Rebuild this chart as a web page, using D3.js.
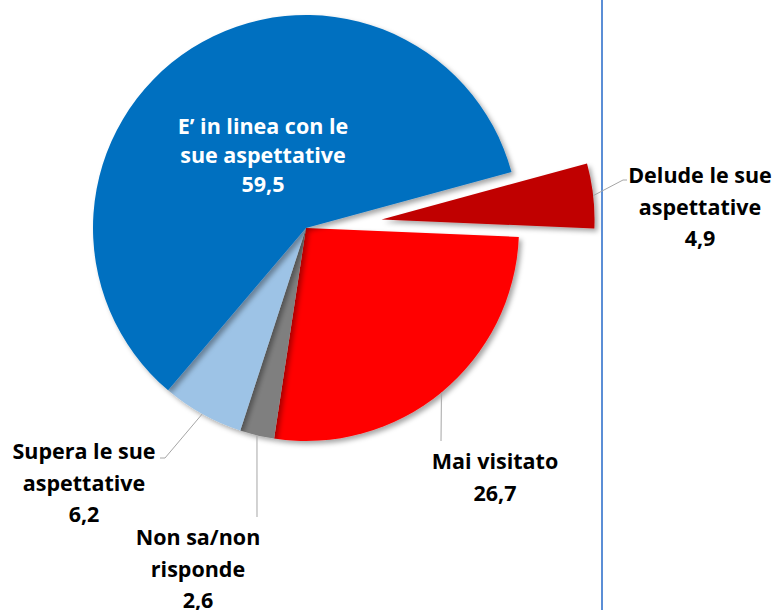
<!DOCTYPE html>
<html>
<head>
<meta charset="utf-8">
<script src="https://cdn.jsdelivr.net/npm/d3@7"></script>
<style>
  body { margin: 0; background: #fff; }
  text { font-family: "Open Sans", Lato, sans-serif; font-weight: bold; font-size: 21.5px; }
</style>
</head>
<body>
<script>
// slices, clockwise from 3 o'clock
let categories = ['Mai visitato', 'Non sa/non risponde', 'Supera le sue aspettative', "E' in linea con le sue aspettative", 'Delude le sue aspettative']
let values = [26.7, 2.6, 6.2, 59.5, 4.9]
let valueLabels = ['26,7', '2,6', '6,2', '59,5', '4,9']
let labelLines = [
    ['Mai visitato'],
    ['Non sa/non', 'risponde'],
    ['Supera le sue', 'aspettative'],
    ['E\u2019 in linea con le', 'sue aspettative'],
    ['Delude le sue', 'aspettative']
]
let colors = ['#ff0000', '#7f7f7f', '#9dc3e6', '#0070c0', '#c00000']

let width = 778, height = 610
let cx = 306, cy = 228, r = 213

let svg = d3.select('body').append('svg')
    .attr('width', width)
    .attr('height', height)

// soft shadow like the office chart
let filter = svg.append('defs').append('filter')
    .attr('id', 'shadow')
    .attr('x', '-10%').attr('y', '-10%')
    .attr('width', '130%').attr('height', '130%')
filter.append('feDropShadow')
    .attr('dx', 3).attr('dy', 3)
    .attr('stdDeviation', 2.5)
    .attr('flood-color', '#000')
    .attr('flood-opacity', 0.35)

let start = Math.PI / 2 + 0.042
let pie = d3.pie()
    .sort(null)
    .startAngle(start)
    .endAngle(start + 2 * Math.PI)
    .value(function(d) { return d })

let arcs = pie(values)
let arc = d3.arc().innerRadius(0).outerRadius(r)

// only the last slice is pulled out
let explode = [0, 0, 0, 0, 76]
function offset(d, i) {
    let mid = (d.startAngle + d.endAngle) / 2
    return [explode[i] * Math.sin(mid), -explode[i] * Math.cos(mid)]
}
function edgePoint(d, i) {
    let mid = (d.startAngle + d.endAngle) / 2
    let o = offset(d, i)
    return [cx + o[0] + r * Math.sin(mid), cy + o[1] - r * Math.cos(mid)]
}

let g = svg.append('g').attr('transform', 'translate(' + cx + ',' + cy + ')')

g.selectAll('path')
    .data(arcs)
    .enter()
    .append('path')
        .attr('d', arc)
        .attr('fill', function(d, i) { return colors[i] })
        .attr('filter', 'url(#shadow)')
        .attr('transform', function(d, i) {
            let o = offset(d, i)
            return 'translate(' + o[0] + ',' + o[1] + ')'
        })

// divider line on the right
svg.append('line')
    .attr('x1', 602).attr('x2', 602)
    .attr('y1', 0).attr('y2', height)
    .attr('stroke', '#5b8ed6')
    .attr('stroke-width', 2)

// label layout: text centre x, first line y, and leader path after the arc point
let layout = [
    { x: 495, y: 469, leader: [[441, 441]] },
    { x: 198, y: 545, leader: [[257, 517]] },
    { x: 84, y: 459, leader: [[165, 458], [160, 458]] },
    { x: 263, y: 134, leader: null, color: '#fff', step: 29 },
    { x: 700, y: 183, leader: [[623, 180], [627, 180]] }
]

arcs.forEach(function(d, i) {
    let L = layout[i]
    if (L.leader) {
        let pts = [edgePoint(d, i)].concat(L.leader)
        svg.append('path')
            .attr('d', d3.line()(pts))
            .attr('fill', 'none')
            .attr('stroke', '#a6a6a6')
            .attr('stroke-width', 1)
    }
    let lines = labelLines[i].concat([valueLabels[i]])
    let step = L.step || 31.5
    let t = svg.append('text')
        .attr('text-anchor', 'middle')
        .attr('fill', L.color || '#000')
    lines.forEach(function(s, k) {
        t.append('tspan')
            .attr('x', L.x)
            .attr('y', L.y + k * step)
            .text(s)
    })
})
</script>
</body>
</html>
